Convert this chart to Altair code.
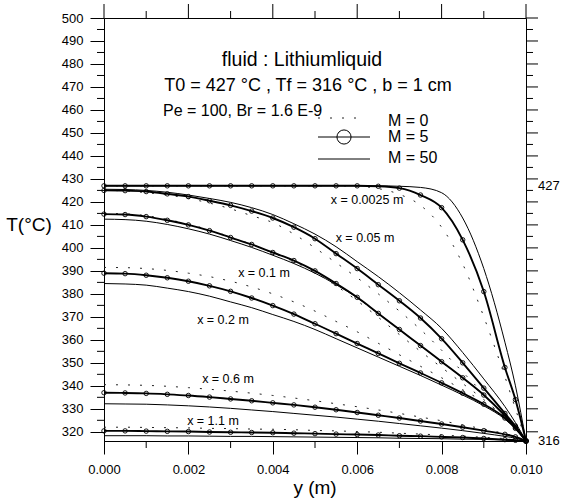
import altair as alt
import pandas as pd

# ---------------- data ----------------
Y_M = [0, 0.0005, 0.001, 0.0015, 0.002, 0.0025, 0.003, 0.0035, 0.004, 0.0045,
       0.005, 0.0055, 0.006, 0.0065, 0.007, 0.0075, 0.008, 0.0085, 0.009,
       0.0095, 0.00975, 0.01]

X_LOCS = ["0.0025", "0.05", "0.1", "0.2", "0.6", "1.1"]

T_M0 = {
    "0.0025": [427, 427, 427, 427, 427, 427, 427, 427, 427, 427, 427, 427, 426.8,
               425.8, 423.3, 418.5, 409, 393, 370, 344, 330, 316],
    "0.05": [425, 424.8, 424, 423, 421.5, 419.5, 417, 414, 411, 406, 400, 393.5,
             387, 380, 372.5, 364.5, 355.5, 346, 336.5, 327, 321.5, 316],
    "0.1": [415, 414.8, 414, 412.4, 410.3, 407.8, 404.7, 401.5, 397.8, 394, 389.3,
            383.5, 377, 369.8, 362.3, 355, 348, 341, 334, 326, 321.5, 316],
    "0.2": [391.5, 391.4, 391, 390.2, 389, 387.5, 385.5, 383, 380, 376.5, 372.5,
            368, 363.5, 358.5, 353.5, 348.5, 343.5, 338.3, 333, 326.5, 321.5, 316],
    "0.6": [340.5, 340.4, 340.2, 339.8, 339.2, 338.5, 337.7, 336.8, 335.8, 334.7,
            333.5, 332.2, 330.9, 329.5, 328, 326.4, 324.8, 323, 321.2, 319.2, 318, 316],
    "1.1": [322, 322, 321.9, 321.8, 321.7, 321.5, 321.4, 321.2, 321.1, 320.9, 320.6,
            320.4, 320.1, 319.8, 319.4, 319, 318.6, 318.1, 317.6, 317, 316.5, 316],
}

T_M5 = {
    "0.0025": [427, 427, 427, 427, 427, 427, 427, 427, 427, 427, 427, 427, 427,
               426.8, 426, 423, 417.5, 403.5, 381, 348, 334, 316],
    "0.05": [425, 424.9, 424.5, 423.5, 422.3, 420.5, 418.5, 416, 413, 409, 404,
             397.5, 391, 384, 377, 369.5, 360.5, 350, 339, 328, 322.5, 316],
    "0.1": [414.7, 414.5, 413.6, 412, 410, 407.5, 404.5, 401.5, 398, 394.5, 390,
            384.5, 378.5, 371.5, 364.5, 357.5, 350.5, 343.5, 336, 327, 322, 316],
    "0.2": [389, 388.8, 388.1, 387, 385.5, 383.5, 381.1, 378.2, 374.9, 371.2, 367,
            362.7, 358.4, 354.1, 349.8, 345.6, 341.3, 336.8, 332, 326, 321.5, 316],
    "0.6": [337, 336.9, 336.7, 336.3, 335.8, 335.1, 334.3, 333.5, 332.6, 331.7,
            330.7, 329.6, 328.4, 327.2, 326, 324.7, 323.4, 322, 320.5, 318.9, 317.8, 316],
    "1.1": [320.4, 320.4, 320.3, 320.2, 320.1, 319.9, 319.8, 319.7, 319.6, 319.4,
            319.2, 319, 318.8, 318.6, 318.3, 318.1, 317.8, 317.5, 317.1, 316.6, 316.3, 316],
}

T_M50 = {
    "0.0025": [427, 427, 427, 427, 427, 427, 427, 427, 427, 427, 427, 427, 427,
               427, 426.8, 426.3, 424, 413, 391, 359, 340, 316],
    "0.05": [425.5, 425.4, 425, 424.2, 423, 421.5, 419.8, 417.5, 414.5, 410.5, 406,
             400.5, 394, 387.5, 380.5, 373, 365, 354.5, 343, 331, 324, 316],
    "0.1": [412.5, 412.3, 411.6, 410.2, 408.3, 406, 403.2, 400.2, 396.8, 393.2, 389,
            384, 378.3, 371.5, 364.5, 357.5, 350.5, 343.5, 336, 327, 322, 316],
    "0.2": [384.5, 384.3, 383.8, 382.5, 381, 379, 376.5, 374, 371, 368, 364.5,
            360.5, 356.5, 352.5, 348.5, 344.5, 340.3, 336, 331.3, 325.5, 321.3, 316],
    "0.6": [332.2, 332.1, 332, 331.7, 331.3, 330.8, 330.2, 329.5, 328.8, 328, 327.2,
            326.4, 325.5, 324.6, 323.6, 322.6, 321.6, 320.5, 319.3, 318, 317.2, 316],
    "1.1": [318.3, 318.3, 318.3, 318.2, 318.2, 318.1, 318, 318, 317.9, 317.8, 317.7,
            317.6, 317.5, 317.4, 317.2, 317.1, 317, 316.8, 316.7, 316.4, 316.2, 316],
}

X_TICKS_MAJOR = [0, 0.002, 0.004, 0.006, 0.008, 0.010]
X_TICKS_MINOR = [0.001, 0.003, 0.005, 0.007, 0.009]
T_TICKS_MAJOR = list(range(320, 501, 10))
T_TICKS_MINOR = list(range(325, 500, 10))

CURVE_LABELS = ["x = 0.0025 m", "x = 0.05 m", "x = 0.1 m", "x = 0.2 m", "x = 0.6 m", "x = 1.1 m"]
TITLE_LINES = ["fluid : Lithiumliquid", "T0 = 427 °C  , Tf = 316 °C , b = 1 cm", "Pe = 100, Br = 1.6 E-9"]
LEGEND_LABELS = ["M = 0", "M = 5", "M = 50"]

# ---------------- build table ----------------
rows = []
for M, table in ((0, T_M0), (5, T_M5), (50, T_M50)):
    for loc in X_LOCS:
        for yv, tv in zip(Y_M, table[loc]):
            rows.append({"y": yv, "T": tv, "loc": loc, "M": M})
df = pd.DataFrame(rows)

W, H = 422, 423
FONT = "Liberation Sans"

xs = alt.Scale(domain=[0, 0.01], nice=False, zero=False)
ys = alt.Scale(domain=[316, 500], nice=False, zero=False)

x_axis = alt.Axis(values=X_TICKS_MAJOR, format=".3f", title=None, tickSize=13,
                  labelPadding=9, labelFontSize=13, labelFont=FONT, grid=False,
                  labelFlush=False, labelOverlap=False, domainColor="black",
                  tickColor="black", labelColor="black")
y_axis = alt.Axis(values=T_TICKS_MAJOR, title=None, tickSize=14, labelPadding=7,
                  labelFontSize=13, labelFont=FONT, grid=False, labelFlush=False,
                  labelOverlap=False, domainColor="black", tickColor="black",
                  labelColor="black")


def X(field):
    return alt.X(field, scale=xs, axis=x_axis)


def Y(field):
    return alt.Y(field, scale=ys, axis=y_axis)


base = alt.Chart(df)


def curves(M):
    return base.transform_filter(alt.datum.M == M)


l_m0 = curves(0).mark_line(color="#222", strokeWidth=1, strokeDash=[2, 10],
                           interpolate="monotone").encode(
    x=X("y:Q"), y=Y("T:Q"), detail="loc:N")
l_m50 = curves(50).mark_line(color="black", strokeWidth=1, interpolate="monotone").encode(
    x=X("y:Q"), y=Y("T:Q"), detail="loc:N")
l_m5 = curves(5).mark_line(color="black", strokeWidth=1.9, interpolate="monotone").encode(
    x=X("y:Q"), y=Y("T:Q"), detail="loc:N")
p_m5 = curves(5).mark_point(shape="circle", filled=False, size=20, color="black",
                            strokeWidth=0.9, opacity=1).encode(
    x=X("y:Q"), y=Y("T:Q"))


def xticks(values, y0, y1):
    return alt.Chart(pd.DataFrame({"v": values})).mark_rule(color="black", strokeWidth=1).encode(
        x=X("v:Q"), y=alt.value(y0), y2=alt.value(y1))


def yticks(values, x0, x1):
    return alt.Chart(pd.DataFrame({"v": values})).mark_rule(color="black", strokeWidth=1).encode(
        y=Y("v:Q"), x=alt.value(x0), x2=alt.value(x1))


ticks = [
    xticks(X_TICKS_MINOR, H, H + 7),
    xticks(X_TICKS_MAJOR, -14, 0),
    xticks(X_TICKS_MINOR, -7, 0),
    yticks(T_TICKS_MINOR, -7, 0),
    yticks(T_TICKS_MAJOR, W, W + 12),
    yticks(T_TICKS_MINOR, W, W + 7),
]


def text(label, x, y, size, align="center"):
    return alt.Chart(pd.DataFrame({"t": [label]})).mark_text(
        font=FONT, fontSize=size, align=align, baseline="middle", color="black").encode(
        text="t:N", x=alt.value(x), y=alt.value(y))


label_pos = [(263, 182), (261, 220), (160, 255), (119, 302), (124, 361), (109, 403)]
texts = [text(lab, px, py, 12.5) for lab, (px, py) in zip(CURVE_LABELS, label_pos)]
texts += [
    text(TITLE_LINES[0], 198, 42, 19.5),
    text(TITLE_LINES[1], 204, 68, 18),
    text(TITLE_LINES[2], 59, 93, 16, align="left"),
    text(LEGEND_LABELS[0], 284, 103, 16, align="left"),
    text(LEGEND_LABELS[1], 284, 119, 16, align="left"),
    text(LEGEND_LABELS[2], 284, 140, 16, align="left"),
    text("T(°C)", -75, 207, 19),
    text("y (m)", 211, 470, 19),
]

right_labels = [
    alt.Chart(pd.DataFrame({"t": [str(v)]})).mark_text(
        font=FONT, fontSize=13, align="left", baseline="middle", color="black").encode(
        text="t:N", x=alt.value(W + 12), y=alt.Y(datum=v, scale=ys, axis=y_axis))
    for v in (427, 316)
]

leg_df = pd.DataFrame({"k": [0]})
legend = [
    alt.Chart(leg_df).mark_rule(color="#222", strokeWidth=1, strokeDash=[2, 10]).encode(
        x=alt.value(214), x2=alt.value(262), y=alt.value(100)),
    alt.Chart(leg_df).mark_rule(color="black", strokeWidth=1).encode(
        x=alt.value(214), x2=alt.value(266), y=alt.value(119)),
    alt.Chart(leg_df).mark_point(shape="circle", filled=False, size=200, color="black",
                                 strokeWidth=1, opacity=1).encode(
        x=alt.value(240), y=alt.value(119)),
    alt.Chart(leg_df).mark_rule(color="black", strokeWidth=1).encode(
        x=alt.value(214), x2=alt.value(266), y=alt.value(141)),
]

chart = alt.layer(l_m0, l_m50, l_m5, p_m5, *ticks, *texts, *right_labels, *legend).properties(
    width=W, height=H,
    autosize=alt.AutoSizeParams(type="none"),
    padding={"left": 104, "top": 18, "right": 43, "bottom": 59},
    background="white",
).configure_view(stroke="black", strokeWidth=1)

chart.save("out.html", embed_options={"renderer": "svg", "actions": False})
